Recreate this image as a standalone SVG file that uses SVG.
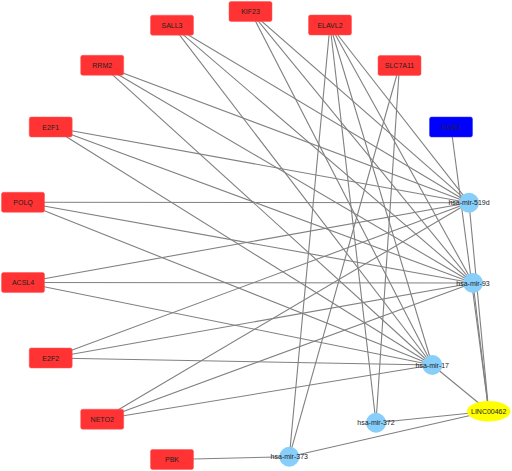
<svg xmlns="http://www.w3.org/2000/svg" width="512" height="471" viewBox="0 0 512 471">
<style>
.e{stroke:#808080;stroke-width:1.1;fill:none}
.g rect{fill:#ff3333;stroke:#ff5555;stroke-width:0.5}
.tf rect{fill:#0000ff;stroke:#3333ff;stroke-width:0.5}
.mi circle{fill:#87cefa}
.ln ellipse{fill:#ffff00}
text{font-family:"Liberation Sans",Arial,sans-serif;font-size:7px;fill:#222;text-anchor:middle;dominant-baseline:central}
</style>
<rect width="512" height="471" fill="#ffffff"/>
<g id="edges">
<!-- to hsa-mir-519d -->
<line class="e" x1="172" y1="25.2" x2="469" y2="202.7"/>
<line class="e" x1="102.2" y1="65.3" x2="469" y2="202.7"/>
<line class="e" x1="250.5" y1="11.5" x2="469" y2="202.7"/>
<line class="e" x1="330" y1="25" x2="469" y2="202.7"/>
<line class="e" x1="50.7" y1="127" x2="469" y2="202.7"/>
<line class="e" x1="23" y1="202.3" x2="469" y2="202.7"/>
<line class="e" x1="23" y1="282.5" x2="469" y2="202.7"/>
<line class="e" x1="50.7" y1="358" x2="469" y2="202.7"/>
<line class="e" x1="102.2" y1="419.2" x2="469" y2="202.7"/>
<line class="e" x1="488.7" y1="411.3" x2="469" y2="202.7"/>
<!-- to hsa-mir-93 -->
<line class="e" x1="172" y1="25.2" x2="473" y2="283"/>
<line class="e" x1="102.2" y1="65.3" x2="473" y2="283"/>
<line class="e" x1="250.5" y1="11.5" x2="473" y2="283"/>
<line class="e" x1="330" y1="25" x2="473" y2="283"/>
<line class="e" x1="50.7" y1="127" x2="473" y2="283"/>
<line class="e" x1="23" y1="202.3" x2="473" y2="283"/>
<line class="e" x1="23" y1="282.5" x2="473" y2="283"/>
<line class="e" x1="50.7" y1="358" x2="473" y2="283"/>
<line class="e" x1="102.2" y1="419.2" x2="473" y2="283"/>
<line class="e" x1="488.7" y1="411.3" x2="473" y2="283"/>
<!-- to hsa-mir-17 -->
<line class="e" x1="172" y1="25.2" x2="432.3" y2="365"/>
<line class="e" x1="102.2" y1="65.3" x2="432.3" y2="365"/>
<line class="e" x1="250.5" y1="11.5" x2="432.3" y2="365"/>
<line class="e" x1="330" y1="25" x2="432.3" y2="365"/>
<line class="e" x1="50.7" y1="127" x2="432.3" y2="365"/>
<line class="e" x1="23" y1="202.3" x2="432.3" y2="365"/>
<line class="e" x1="23" y1="282.5" x2="432.3" y2="365"/>
<line class="e" x1="50.7" y1="358" x2="432.3" y2="365"/>
<line class="e" x1="102.2" y1="419.2" x2="432.3" y2="365"/>
<line class="e" x1="488.7" y1="411.3" x2="432.3" y2="365"/>
<!-- to hsa-mir-372 -->
<line class="e" x1="330" y1="25" x2="376" y2="422.7"/>
<line class="e" x1="399.5" y1="65.5" x2="376" y2="422.7"/>
<line class="e" x1="488.7" y1="411.3" x2="376" y2="422.7"/>
<!-- to hsa-mir-373 -->
<line class="e" x1="330" y1="25" x2="289.3" y2="456.7"/>
<line class="e" x1="399.5" y1="65.5" x2="289.3" y2="456.7"/>
<line class="e" x1="172" y1="459.5" x2="289.3" y2="456.7"/>
<line class="e" x1="488.7" y1="411.3" x2="289.3" y2="456.7"/>
<!-- EGR2 to LINC00462 -->
<line class="e" x1="451" y1="127" x2="488.7" y2="411.3"/>
</g>
<g id="n-SALL3" class="g"><rect x="150.5" y="15.2" width="43" height="20" rx="2"/><text x="172" y="25.2">SALL3</text></g>
<g id="n-KIF23" class="g"><rect x="229" y="1.5" width="43" height="20" rx="2"/><text x="250.5" y="11.5">KIF23</text></g>
<g id="n-ELAVL2" class="g"><rect x="308.5" y="15" width="43" height="20" rx="2"/><text x="330" y="25">ELAVL2</text></g>
<g id="n-SLC7A11" class="g"><rect x="378" y="55.5" width="43" height="20" rx="2"/><text x="399.5" y="65.5">SLC7A11</text></g>
<g id="n-EGR2" class="tf"><rect x="429.5" y="117" width="43" height="20" rx="2"/><text x="451" y="127">EGR2</text></g>
<g id="n-RRM2" class="g"><rect x="80.7" y="55.3" width="43" height="20" rx="2"/><text x="102.2" y="65.3">RRM2</text></g>
<g id="n-E2F1" class="g"><rect x="29.2" y="117" width="43" height="20" rx="2"/><text x="50.7" y="127">E2F1</text></g>
<g id="n-POLQ" class="g"><rect x="1.5" y="192.3" width="43" height="20" rx="2"/><text x="23" y="202.3">POLQ</text></g>
<g id="n-ACSL4" class="g"><rect x="1.5" y="272.5" width="43" height="20" rx="2"/><text x="23" y="282.5">ACSL4</text></g>
<g id="n-E2F2" class="g"><rect x="29.2" y="348" width="43" height="20" rx="2"/><text x="50.7" y="358">E2F2</text></g>
<g id="n-NETO2" class="g"><rect x="80.7" y="409.2" width="43" height="20" rx="2"/><text x="102.2" y="419.2">NETO2</text></g>
<g id="n-PBK" class="g"><rect x="150.5" y="449.5" width="43" height="20" rx="2"/><text x="172" y="459.5">PBK</text></g>
<g id="n-mir519d" class="mi"><circle cx="469" cy="202.7" r="10"/><text x="469" y="202.7">hsa-mir-519d</text></g>
<g id="n-mir93" class="mi"><circle cx="473" cy="283" r="10"/><text x="473" y="283">hsa-mir-93</text></g>
<g id="n-mir17" class="mi"><circle cx="432.3" cy="365" r="10"/><text x="432.3" y="365">hsa-mir-17</text></g>
<g id="n-mir372" class="mi"><circle cx="376" cy="422.7" r="10"/><text x="376" y="422.7">hsa-mir-372</text></g>
<g id="n-mir373" class="mi"><circle cx="289.3" cy="456.7" r="10"/><text x="289.3" y="456.7">hsa-mir-373</text></g>
<g id="n-LINC00462" class="ln"><ellipse cx="488.7" cy="411.3" rx="21.7" ry="10.3"/><text x="488.7" y="411.3">LINC00462</text></g>
</svg>
